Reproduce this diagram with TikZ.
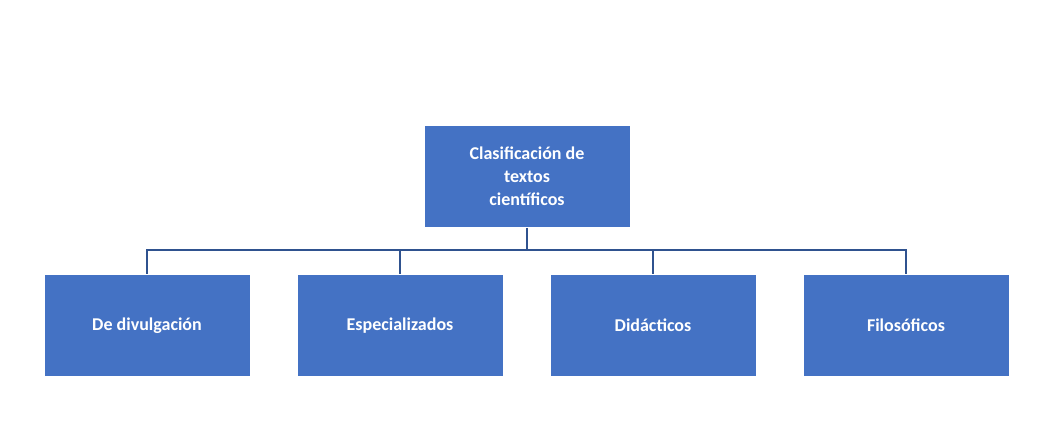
\documentclass[tikz,border=0pt]{standalone}
\usepackage{fontspec}
\setmainfont{Carlito}
\usetikzlibrary{positioning}
\definecolor{boxblue}{HTML}{4472C4}
\definecolor{linkblue}{HTML}{2F528F}
\begin{document}
\begin{tikzpicture}[x=1pt, y=-1pt,
    catbox/.style={fill=boxblue, draw=white, line width=1pt, text=white,
        minimum width=206pt, minimum height=102pt, align=center,
        font=\bfseries\fontsize{18}{23}\selectfont},
    link/.style={draw=linkblue, line width=1.5pt}]
    \useasboundingbox (0,0) rectangle (1045,435);
    \node[catbox] (root) at (527,176.5) {Clasificación de\\textos\\científicos};
    \node[catbox] (c1) at (147,325.5) {De divulgación};
    \node[catbox] (c2) at (400,325.5) {Especializados};
    \node[catbox] (c3) at (653,325.5) {Didácticos};
    \node[catbox] (c4) at (906,325.5) {Filosóficos};
    \coordinate (hub) at (527,250);
    \draw[link] (root.south) -- (hub);
    \foreach \n in {c1,c2,c3,c4}
        \draw[link] (hub) -| (\n.north);
\end{tikzpicture}
\end{document}
